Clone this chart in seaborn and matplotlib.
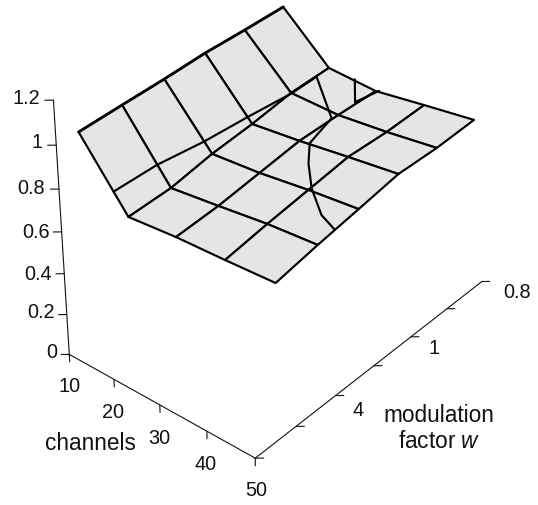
import numpy as np
import matplotlib
matplotlib.use("Agg")
import matplotlib.pyplot as plt
import seaborn as sns

# data: surface heights per channel count, over the six modulation-factor categories
channels = [10, 20, 30, 40, 50]
w_pos = [0.5, 1.5, 2.5, 3.5, 4.5, 5.5]
z_ch10 = [0.998, 1.000, 1.001, 1.006, 1.001, 0.999]
z_ch20 = [0.716, 0.721, 0.755, 0.773, 0.801, 0.804]
z_ch30 = [0.735, 0.747, 0.772, 0.797, 0.797, 0.792]
z_ch40 = [0.744, 0.775, 0.801, 0.827, 0.820, 0.826]
z_ch50 = [0.756, 0.792, 0.823, 0.855, 0.850, 0.858]

# the z = 0.8 band boundary drawn on the surface
band_level = 0.8
band_a_ch = [17.0, 17.2, 18.5, 19.2, 20.1, 20.0]
band_a_w = [0.50, 1.49, 2.47, 3.50, 4.50, 5.17]
band_b_ch = [20.0, 29.9, 30.9, 31.8, 35.3, 40.1, 45.8, 49.8]
band_b_w = [5.17, 4.34, 3.91, 3.54, 3.08, 2.57, 2.11, 1.94]
band_c_ch = [25.4, 29.8, 30.7]
band_c_w = [5.52, 4.97, 5.50]

z_ticks = [0, 0.2, 0.4, 0.6, 0.8, 1, 1.2]
z_labels = ["0", "0.2", "0.4", "0.6", "0.8", "1", "1.2"]
ch_ticks = [10, 20, 30, 40, 50]
w_ticks = [0, 1, 2, 3, 4, 5, 6]
w_labels = ["0.8", "1", "4"]

W, H = 538, 505
sns.set_theme(style="white")
plt.rcParams["font.family"] = ["Liberation Sans", "DejaVu Sans"]
plt.rcParams["mathtext.fontset"] = "custom"
plt.rcParams["mathtext.rm"] = "Liberation Sans"
plt.rcParams["mathtext.it"] = "Liberation Sans:italic"

scale, cx, cy = 2833.9354, 279.6439, 195.9029
side = 0.185 * scale
fig = plt.figure(figsize=(W / 100, H / 100), dpi=100)
ax = fig.add_axes([(cx - 0.095 * scale) / W, (H - cy - 0.095 * scale) / H, side / W, side / H],
                  projection="3d", computed_zorder=False)
ax.set_xlim(10, 50, view_margin=0)
ax.set_ylim(0, 6, view_margin=0)
ax.set_zlim(0, 1.2, view_margin=0)
ax.view_init(elev=35.0087, azim=-49.9942)
ax.set_proj_type("persp", focal_length=0.8735)
ax.set_box_aspect((0.6730, 1, 0.8321), zoom=1)
ax.set_axis_off()

X, Y = np.meshgrid(channels, w_pos, indexing="ij")
Z = np.array([z_ch10, z_ch20, z_ch30, z_ch40, z_ch50])
ax.plot_surface(X, Y, Z, rstride=1, cstride=1, color="#e5e5e5", shade=False,
                edgecolor="black", linewidth=1.55, antialiased=True)
ax.plot(X[0], Y[0], Z[0], color="black", lw=2.0, clip_on=False)

for c, w in [(band_a_ch, band_a_w), (band_b_ch, band_b_w), (band_c_ch, band_c_w)]:
    ax.plot(c, w, [band_level] * len(c), color="black", lw=1.55, clip_on=False)

k = dict(color="#111111", lw=0.8, clip_on=False)
ax.plot([10, 10], [0, 0], [0, 1.2], **k)
ax.plot([10, 50], [0, 0], [0, 0], **k)
ax.plot([50, 50], [0, 6], [0, 0], **k)
for t in z_ticks:
    ax.plot([10, 9], [0, -0.088], [t, t], **k)
for t in ch_ticks:
    ax.plot([t, t], [0, 0], [0, -0.038], **k)
for t in w_ticks:
    ax.plot([50, 51], [t, t + 0.088], [0, 0], **k)


def label(px, py, s, size=14.3, **kw):
    fig.text(px / W, 1 - py / H, s, fontsize=size, color="#111111", va="center", **kw)


for s, (x, y) in zip(z_labels, [(57, 353), (55, 313), (52, 274), (50, 232), (45, 189), (43, 143), (40, 98)]):
    label(x, y, s, ha="right")
for t, (x, y) in zip(ch_ticks, [(70, 387), (113, 413), (159, 438), (206, 464), (256, 491)]):
    label(x, y, str(t), ha="center")
for s, (x, y) in zip(w_labels, [(517, 293), (434, 349), (358, 410)]):
    label(x, y, s, ha="center")
label(90, 444, "channels", size=16.3, ha="center")
label(439, 416, "modulation", size=16.3, ha="center")
label(439, 442, r"factor $\mathit{w}$", size=16.3, ha="center")

fig.savefig("out.png", dpi=100)
